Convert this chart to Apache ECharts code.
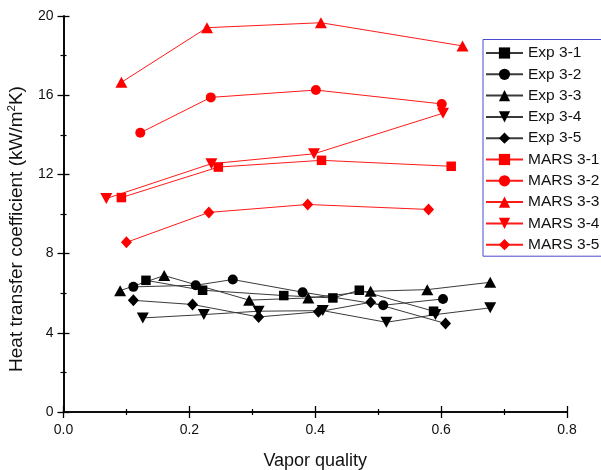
<!DOCTYPE html>
<html>
<head>
<meta charset="utf-8">
<script src="https://cdn.jsdelivr.net/npm/echarts@6/dist/echarts.min.js"></script>
<style>
  html, body { margin: 0; padding: 0; background: #fff; }
  #chart { width: 601px; height: 470px; }
</style>
</head>
<body>
<div id="chart"></div>
<script>
// Measured heat transfer coefficient vs. vapor quality, [quality, kW/m2K]
const exp31 = [[0.131, 6.65], [0.221, 6.15], [0.350, 5.88], [0.428, 5.76], [0.470, 6.15], [0.588, 5.09]];
const exp32 = [[0.111, 6.32], [0.210, 6.40], [0.269, 6.69], [0.380, 6.05], [0.508, 5.39], [0.603, 5.71]];
const exp33 = [[0.090, 6.13], [0.160, 6.89], [0.295, 5.65], [0.389, 5.76], [0.488, 6.10], [0.578, 6.18], [0.678, 6.55]];
const exp34 = [[0.126, 4.75], [0.223, 4.92], [0.310, 5.09], [0.412, 5.12], [0.513, 4.53], [0.591, 4.92], [0.678, 5.26]];
const exp35 = [[0.111, 5.64], [0.205, 5.43], [0.310, 4.80], [0.405, 5.06], [0.488, 5.54], [0.607, 4.47]];

// MARS code predictions
const mars31 = [[0.092, 10.83], [0.246, 12.37], [0.410, 12.71], [0.616, 12.41]];
const mars32 = [[0.122, 14.10], [0.234, 15.89], [0.401, 16.26], [0.601, 15.56]];
const mars33 = [[0.092, 16.65], [0.228, 19.41], [0.409, 19.66], [0.634, 18.49]];
const mars34 = [[0.068, 10.78], [0.235, 12.54], [0.398, 13.04], [0.603, 15.09]];
const mars35 = [[0.100, 8.57], [0.231, 10.08], [0.388, 10.48], [0.580, 10.23]];

const seriesNames = ['Exp 3-1', 'Exp 3-2', 'Exp 3-3', 'Exp 3-4', 'Exp 3-5',
                     'MARS 3-1', 'MARS 3-2', 'MARS 3-3', 'MARS 3-4', 'MARS 3-5'];
const seriesData = [exp31, exp32, exp33, exp34, exp35, mars31, mars32, mars33, mars34, mars35];

const xTicks = [0, 0.8, 0.2];   // min, max, interval
const yTicks = [0, 20, 4];

const symbols = ['rect', 'circle', 'triangle', 'path://M0,0 L10,0 L5,9 Z', 'diamond'];
const symbolSizes = [9.5, 10, [12, 11], [12, 11], [11, 12]];

const FONT = '"Liberation Sans", Arial, sans-serif';

const series = seriesData.map((d, i) => {
  const isExp = i < 5;
  const k = i % 5;
  return {
    name: seriesNames[i],
    type: 'line',
    data: d,
    symbol: symbols[k],
    symbolSize: symbolSizes[k],
    showAllSymbol: true,
    z: isExp ? 3 : 4,
    lineStyle: { color: isExp ? '#3a3a3a' : '#ff1a1a', width: 1 },
    itemStyle: { color: isExp ? '#000' : '#ff0000' },
    emphasis: { disabled: true },
    animation: false
  };
});

const axisCommon = {
  axisLine: { lineStyle: { color: '#000', width: 1.6 } },
  axisTick: { inside: true, length: 6, lineStyle: { color: '#000', width: 1.3 } },
  minorTick: { show: true, splitNumber: 2, length: 3, lineStyle: { color: '#000', width: 1.2 } },
  splitLine: { show: false },
  minorSplitLine: { show: false }
};

const chart = echarts.init(document.getElementById('chart'), null, { renderer: 'canvas' });
chart.setOption({
  animation: false,
  backgroundColor: '#fff',
  grid: { left: 63.5, right: 34, top: 16, bottom: 58, containLabel: false, outerBoundsMode: 'none' },
  xAxis: [
    Object.assign({
      type: 'value', min: xTicks[0], max: xTicks[1], interval: xTicks[2],
      position: 'bottom',
      name: 'Vapor quality', nameLocation: 'middle', nameGap: 40,
      nameTextStyle: { fontFamily: FONT, fontSize: 18, color: '#111' },
      axisLabel: { fontFamily: FONT, fontSize: 14, color: '#111', margin: 11,
                   formatter: v => v.toFixed(1) }
    }, axisCommon),
    Object.assign({
      type: 'value', min: xTicks[0], max: xTicks[1], interval: xTicks[2],
      position: 'top', axisLabel: { show: false }
    }, axisCommon)
  ],
  yAxis: [
    Object.assign({
      type: 'value', min: yTicks[0], max: yTicks[1], interval: yTicks[2],
      position: 'left',
      name: '{t|Heat transfer coefficient (kW/m}{sup|2}{t|K)}', nameLocation: 'middle', nameGap: 29,
      nameTextStyle: {
        fontFamily: FONT, fontSize: 19, color: '#111',
        padding: [0, 30, 0, 0],
        rich: {
          t: { fontFamily: FONT, fontSize: 19, color: '#111', lineHeight: 21 },
          sup: { fontFamily: FONT, fontSize: 11.5, color: '#111', verticalAlign: 'top', lineHeight: 21, padding: [0, 0, 9, 0] }
        }
      },
      axisLabel: { fontFamily: FONT, fontSize: 14, color: '#111', margin: 10 }
    }, axisCommon),
    Object.assign({
      type: 'value', min: yTicks[0], max: yTicks[1], interval: yTicks[2],
      position: 'right', axisLabel: { show: false }
    }, axisCommon)
  ],
  legend: {
    orient: 'vertical',
    left: 483,
    top: 39.5,
    data: seriesNames,
    backgroundColor: '#fff',
    borderColor: '#4a4ad0',
    borderWidth: 1,
    borderRadius: 0,
    padding: [5.5, 40, 3.5, 2],
    itemGap: 5.3,
    itemWidth: 37,
    itemHeight: 14,
    textStyle: { fontFamily: FONT, fontSize: 15.5, color: '#111', lineHeight: 16 },
    selectedMode: false,
    z: 10
  },
  series: series
});
</script>
</body>
</html>
